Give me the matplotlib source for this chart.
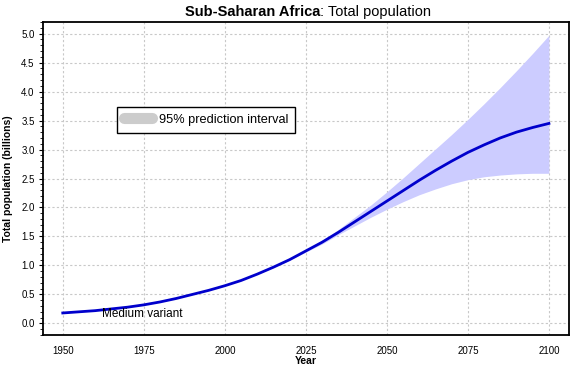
import numpy as np
import matplotlib
matplotlib.use("Agg")
import matplotlib.pyplot as plt
from matplotlib.lines import Line2D
from matplotlib.ticker import MultipleLocator

plt.rcParams['font.family'] = ['Liberation Sans', 'DejaVu Sans']

# medium variant, billions
years = [1950, 1955, 1960, 1965, 1970, 1975, 1980, 1985, 1990, 1995, 2000,
         2005, 2010, 2015, 2020, 2025, 2030, 2035, 2040, 2045, 2050,
         2055, 2060, 2065, 2070, 2075, 2080, 2085, 2090, 2095, 2100]
medium = [0.18, 0.20, 0.22, 0.25, 0.28, 0.32, 0.37, 0.43, 0.50, 0.57, 0.65,
          0.74, 0.85, 0.97, 1.10, 1.25, 1.40, 1.57, 1.75, 1.93, 2.11,
          2.29, 2.47, 2.64, 2.80, 2.95, 3.08, 3.20, 3.30, 3.38, 3.45]

# 95% prediction interval
pi_years = [2010, 2015, 2020, 2025, 2030, 2035, 2040, 2045, 2050, 2055,
            2060, 2065, 2070, 2075, 2080, 2085, 2090, 2095, 2100]
pi_low = [0.85, 0.965, 1.09, 1.23, 1.37, 1.53, 1.68, 1.83, 1.97, 2.10,
          2.22, 2.32, 2.41, 2.48, 2.53, 2.56, 2.58, 2.59, 2.59]
pi_high = [0.85, 0.975, 1.11, 1.27, 1.43, 1.62, 1.83, 2.04, 2.27, 2.51,
           2.76, 3.01, 3.26, 3.52, 3.79, 4.07, 4.36, 4.66, 4.97]

fig = plt.figure(figsize=(5.79, 3.67), dpi=100)
ax = fig.add_axes([43 / 579, 1 - 335 / 367, 526 / 579, 313 / 367])

ax.fill_between(pi_years, pi_low, pi_high, color='#ccccff', lw=0, zorder=2)
ax.plot(years, medium, color='#0000cc', lw=2, zorder=3)

ax.set_xlim(1943.9, 2106.2)
ax.set_ylim(-0.2, 5.2)
ax.xaxis.set_major_locator(MultipleLocator(25))
ax.yaxis.set_major_locator(MultipleLocator(0.5))
ax.yaxis.set_minor_locator(MultipleLocator(0.1))
ax.yaxis.set_major_formatter(matplotlib.ticker.FormatStrFormatter('%.1f'))
ax.tick_params(axis='x', length=0, labelsize=7, pad=8)
ax.tick_params(axis='y', which='major', length=3, labelsize=7, pad=3)
ax.tick_params(axis='y', which='minor', length=2)
ax.grid(True, color='#c8c8c8', ls=(0, (2, 2)), lw=0.8, zorder=0)
for s in ax.spines.values():
    s.set_linewidth(1.3)

ax.set_xlabel('Year', fontsize=7.5, fontweight='bold', labelpad=0)
ax.set_ylabel('Total population (billions)', fontsize=7.5, fontweight='bold', labelpad=6)

ax.text(1962, 0.16, 'Medium variant', fontsize=8.5, va='center', ha='left', zorder=4)

handle = Line2D([], [], color='#cccccc', lw=8, solid_capstyle='round')
leg = ax.legend([handle], ['95% prediction interval'], loc='center left',
                bbox_to_anchor=(0.141, 0.687), fontsize=9.2, frameon=True,
                fancybox=False, framealpha=1, edgecolor='black',
                handlelength=2.2, handletextpad=0.5, borderpad=0.55,
                borderaxespad=0)
leg.get_frame().set_linewidth(1)

t1 = fig.text(185 / 579, 1 - 12 / 367, 'Sub-Saharan Africa', fontsize=10.5,
              fontweight='bold', ha='left', va='center')
ax.annotate(': Total population', xy=(1, 0), xycoords=t1, va='bottom',
            fontsize=10.5)

fig.savefig('out.png', dpi=100)
